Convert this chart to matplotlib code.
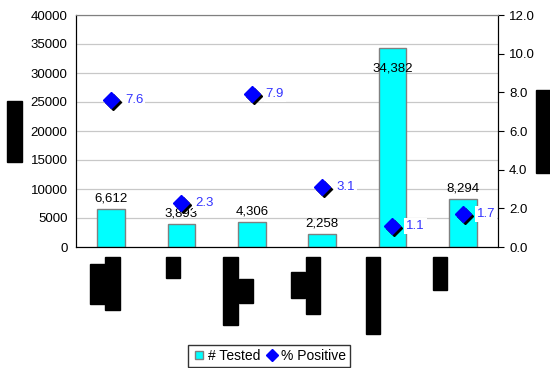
import matplotlib.pyplot as plt
import matplotlib.transforms as mtransforms
from matplotlib.patches import Rectangle
from matplotlib.lines import Line2D
import numpy as np

plt.rcParams['font.family'] = ['Liberation Sans', 'DejaVu Sans']

# data
categories = ["A", "B", "C", "D", "E", "F"]
tested = [6612, 3893, 4306, 2258, 34382, 8294]
positive = [7.6, 2.3, 7.9, 3.1, 1.1, 1.7]
tested_labels = ["6,612", "3,893", "4,306", "2,258", "34,382", "8,294"]

W, H = 550, 368
fig = plt.figure(figsize=(5.5, 3.68), dpi=100)
ax = fig.add_axes([76 / W, 1 - 247 / H, 422 / W, 232 / H])
ax2 = ax.twinx()

x = np.arange(len(categories))
ax.bar(x, tested, width=0.39, color="#00FFFF", edgecolor="#808080", linewidth=1.0, zorder=2)
ax.set_xlim(-0.5, len(categories) - 0.5)
ax.set_ylim(0, 40000)
ax.set_yticks(range(0, 40001, 5000))
ax.yaxis.grid(True, color="#c8c8c8", linewidth=0.9, zorder=0)
ax.set_axisbelow(True)
ax.set_xticks(x)
ax.set_xticklabels([])
ax.tick_params(axis="x", length=0)
ax.tick_params(axis="y", length=0, labelsize=9.5, pad=6)

for i, (v, lab) in enumerate(zip(tested, tested_labels)):
    if v > 30000:
        ax.text(i, v - 2600, lab, ha="center", va="top", fontsize=9.5, zorder=5)
    else:
        ax.text(i, v + 800, lab, ha="center", va="bottom", fontsize=9.5, zorder=5)

ax2.set_ylim(0, 12)
ax2.set_yticks(np.arange(0, 12.1, 2))
ax2.set_yticklabels([f"{t:.1f}" for t in np.arange(0, 12.1, 2)])
ax2.tick_params(axis="y", direction="out", length=4, labelsize=9.5, pad=4)

shadow = mtransforms.offset_copy(ax2.transData, fig=fig, x=2, y=-2, units="dots")
ax2.plot(x, positive, "D", color="black", markersize=8, transform=shadow, zorder=3, linestyle="none")
ax2.plot(x, positive, "D", color="#0000FF", markersize=8, zorder=4, linestyle="none")
for i, p in enumerate(positive):
    ax2.annotate(f"{p:.1f}", (i, p), xytext=(10, 0), textcoords="offset points",
                 ha="left", va="center", fontsize=9.5, color="#3333FF",
                 bbox=dict(boxstyle="square,pad=0.15", fc="white", ec="none"), zorder=5)

for a in (ax, ax2):
    a.spines["top"].set_color("#808080")
    a.spines["left"].set_color("black")
    a.spines["bottom"].set_color("black")
    a.spines["right"].set_color("black")

# redacted labels
boxes = [(7, 101, 22, 162), (536, 90, 550, 173),
         (90, 264, 105, 304), (105, 257, 120, 310),
         (166, 257, 180, 278),
         (223, 257, 238, 325), (239, 279, 253, 303),
         (291, 272, 305, 298), (306, 257, 320, 314),
         (366, 257, 380, 334),
         (433, 257, 447, 290)]
for x0, y0, x1, y1 in boxes:
    fig.patches.append(Rectangle((x0 / W, 1 - y1 / H), (x1 - x0) / W, (y1 - y0) / H,
                                 transform=fig.transFigure, color="black"))

handles = [Line2D([], [], marker="s", color="#00FFFF", markeredgecolor="#808080", linestyle="none", markersize=6),
           Line2D([], [], marker="D", color="#0000FF", linestyle="none", markersize=6)]
fig.legend(handles, ["# Tested", "% Positive"], loc="lower center", bbox_to_anchor=(269 / W, -6 / H),
           ncol=2, fontsize=10, frameon=True, fancybox=False, edgecolor="black",
           handletextpad=0.1, columnspacing=0.4, handlelength=1.0, borderpad=0.3)

fig.savefig("out.png", dpi=100)
